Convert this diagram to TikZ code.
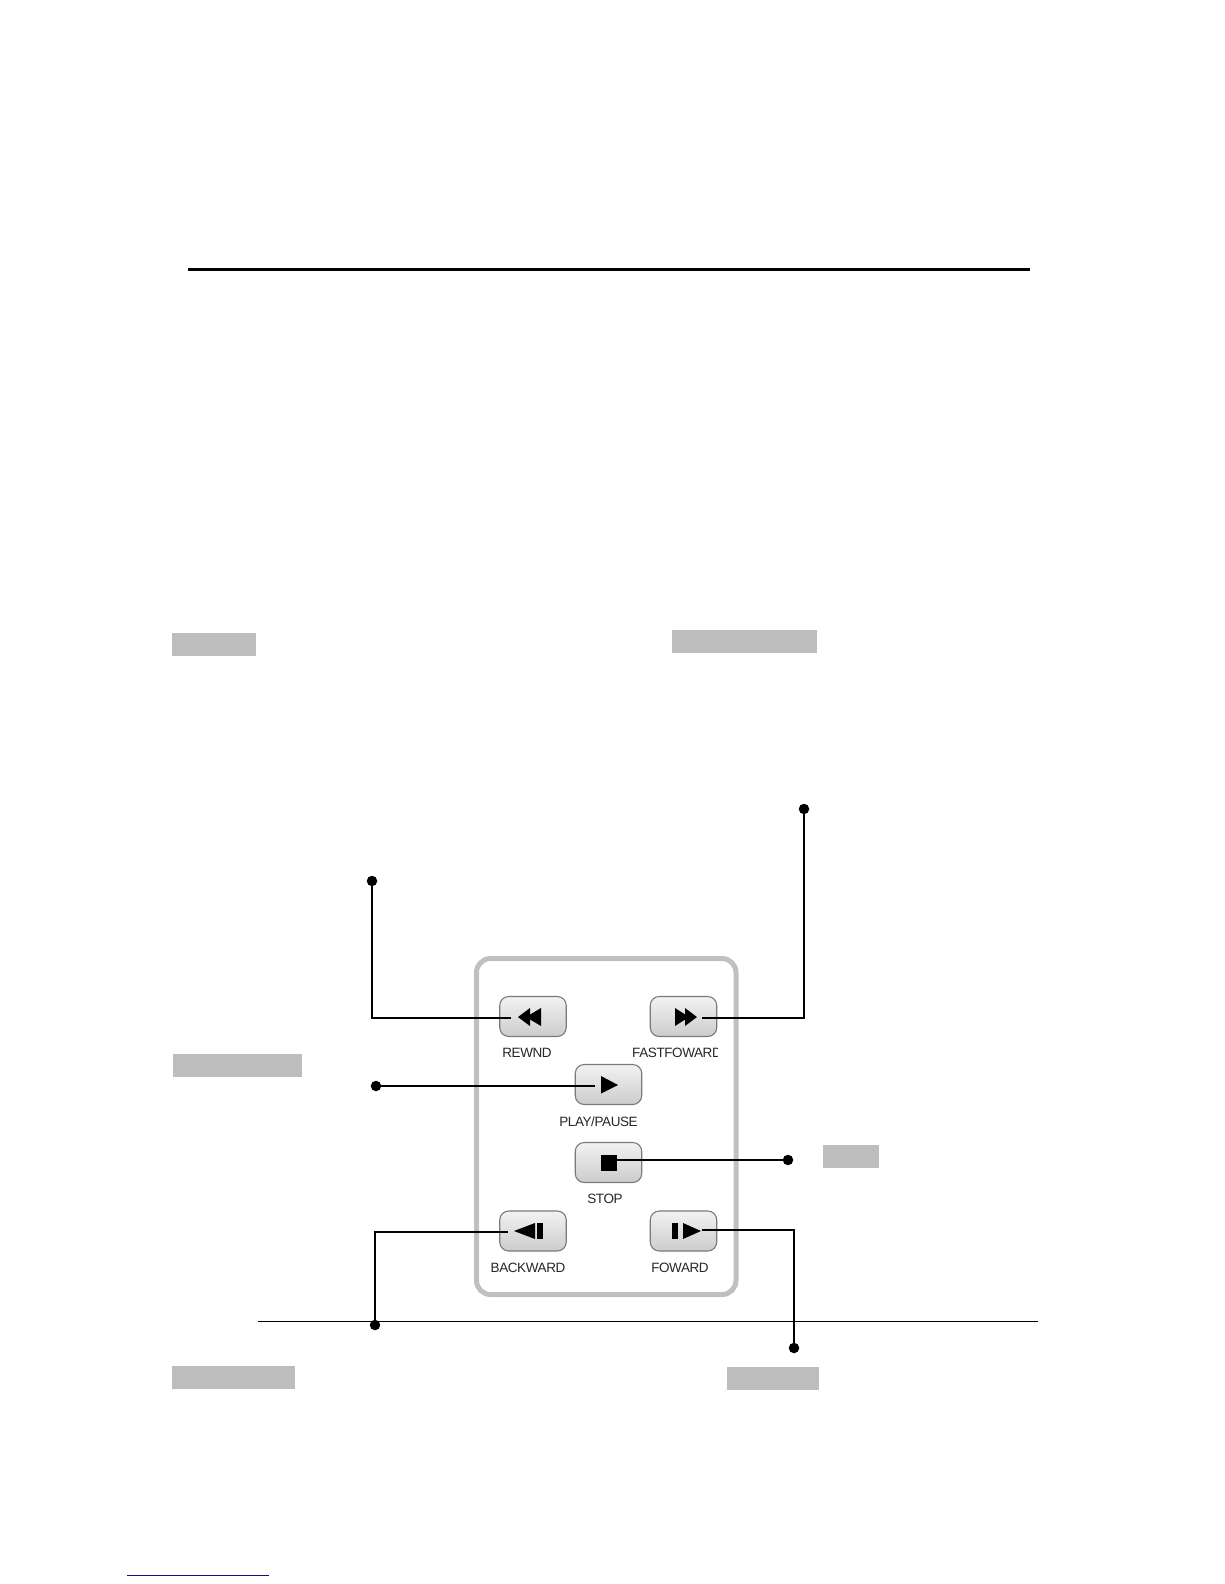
\documentclass[tikz,border=0pt]{standalone}
\usepackage{fontspec}
\setmainfont[LetterSpace=-3]{Liberation Sans}
\definecolor{tagGray}{HTML}{BDBDBD}
\definecolor{panelGray}{HTML}{C0C0C0}
\definecolor{btnEdge}{HTML}{7A7A7A}
\definecolor{linkBlue}{HTML}{10108C}
\tikzset{
  graytag/.style={fill=tagGray,draw=none,anchor=north west,inner sep=0pt},
  panelbox/.style={draw=panelGray,line width=5pt,rounded corners=14pt,fill=white},
  btn/.style={rectangle,rounded corners=9pt,draw=btnEdge,line width=1.1pt,top color=white!95!black,bottom color=black!20,minimum width=66.5pt,minimum height=40pt,inner sep=0pt},
  btnlabel/.style={font=\fontsize{13.5}{15}\selectfont,text=black!85,inner sep=0pt},
  glyph/.style={fill=black,draw=none},
  dotnode/.style={circle,fill=black,draw=none,minimum size=10.5pt,inner sep=0pt},
  wire/.style={draw=black,line width=1.8pt},
}
\begin{document}
\begin{tikzpicture}[x=1pt,y=-1pt]
\useasboundingbox (0,0) rectangle (1224,1584);
\fill[white] (0,0) rectangle (1224,1584);

% rules and underline
\coordinate (topL) at (188,269.5);
\coordinate (topR) at (1030,269.5);
\draw[line width=3pt] (topL) -- (topR);
\coordinate (botL) at (258,1321);
\coordinate (botR) at (1038,1321);
\draw[line width=1pt] (botL) -- (botR);
\coordinate (linkL) at (127,1575);
\coordinate (linkR) at (269,1575);
\draw[linkBlue,line width=1pt] (linkL) -- (linkR);

% gray tags
\node[graytag,minimum width=84pt,minimum height=23pt] (tagRew) at (172,633) {};
\node[graytag,minimum width=145pt,minimum height=23pt] (tagFF) at (672,630) {};
\node[graytag,minimum width=129pt,minimum height=23pt] (tagPlay) at (173,1054) {};
\node[graytag,minimum width=56pt,minimum height=23pt] (tagStop) at (823,1145) {};
\node[graytag,minimum width=123pt,minimum height=23pt] (tagBack) at (172,1366) {};
\node[graytag,minimum width=92pt,minimum height=23pt] (tagFwd) at (727,1367) {};

% panel
\draw[panelbox] (476.5,958.5) rectangle (736,1294.5);

% buttons
\node[btn] (bRew) at (533,1016.5) {};
\node[btn] (bFF) at (683.5,1016.5) {};
\node[btn] (bPlay) at (608.5,1084.5) {};
\node[btn] (bStop) at (608.5,1162.5) {};
\node[btn] (bBack) at (533,1231) {};
\node[btn] (bFwd) at (683.5,1231) {};

% glyphs
\fill[glyph] (518,1017) -- (530,1008) -- (530,1026) -- cycle;
\fill[glyph] (526,1017) -- (541,1008) -- (541,1026) -- cycle;
\fill[glyph] (697,1017) -- (685,1008) -- (685,1026) -- cycle;
\fill[glyph] (689,1017) -- (675,1008) -- (675,1026) -- cycle;
\fill[glyph] (618,1085) -- (601,1076) -- (601,1093.5) -- cycle;
\fill[glyph] (601,1155) rectangle (617,1171);
\fill[glyph] (514,1231) -- (535,1223) -- (535,1239) -- cycle;
\fill[glyph] (537,1223) rectangle (543,1239);
\fill[glyph] (672,1223) rectangle (678,1239);
\fill[glyph] (701,1231) -- (683,1223) -- (683,1239) -- cycle;

% labels
\node[btnlabel] (lRew) at (527,1053) {REWND};
\begin{scope}
\clip (620,1040) rectangle (717,1066);
\node[btnlabel,anchor=west] (lFF) at (632,1053) {FASTFOWARD};
\end{scope}
\node[btnlabel] (lPlay) at (598.5,1121.5) {PLAY/PAUSE};
\node[btnlabel] (lStop) at (605,1198.5) {STOP};
\node[btnlabel] (lBack) at (528,1267.5) {BACKWARD};
\node[btnlabel] (lFwd) at (680,1267.5) {FOWARD};

% connector ends
\node[dotnode] (dRew) at (372,881) {};
\node[dotnode] (dFF) at (804,809) {};
\node[dotnode] (dPlay) at (376,1086) {};
\node[dotnode] (dStop) at (788,1160) {};
\node[dotnode] (dBack) at (375,1325) {};
\node[dotnode] (dFwd) at (794,1348) {};
\coordinate (tRew) at (511,1018);
\coordinate (tFF) at (702,1018);
\coordinate (tPlay) at (595,1086);
\coordinate (tStop) at (617,1160);
\coordinate (tBack) at (508,1232);
\coordinate (tFwd) at (702,1230);

% connectors
\draw[wire] (dRew.center) |- (tRew);
\draw[wire] (dFF.center) |- (tFF);
\draw[wire] (dPlay.center) -- (tPlay);
\draw[wire] (dStop.center) -- (tStop);
\draw[wire] (dBack.center) |- (tBack);
\draw[wire] (dFwd.center) |- (tFwd);
\end{tikzpicture}
\end{document}
